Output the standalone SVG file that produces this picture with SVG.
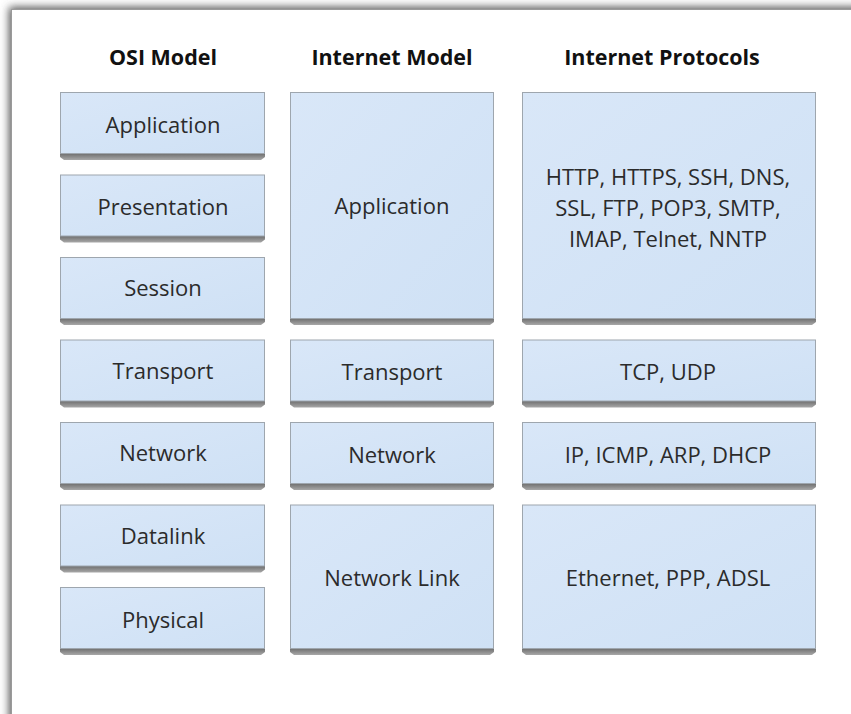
<svg xmlns="http://www.w3.org/2000/svg" width="851" height="714" viewBox="0 0 851 714">
  <defs>
    <linearGradient id="face" x1="0" y1="0" x2="1" y2="1">
      <stop offset="0" stop-color="#d9e7f8"/>
      <stop offset="1" stop-color="#cfe1f5"/>
    </linearGradient>
    <linearGradient id="bevel" x1="0" y1="0" x2="0" y2="1">
      <stop offset="0" stop-color="#6a6a6a"/>
      <stop offset="1" stop-color="#a8a8a8"/>
    </linearGradient>
    <filter id="soft" x="-5%" y="-50%" width="110%" height="200%">
      <feGaussianBlur stdDeviation="0.7"/>
    </filter>
    <filter id="pageShadow" x="-10%" y="-10%" width="120%" height="120%">
      <feGaussianBlur stdDeviation="4"/>
    </filter>
  </defs>
  <style>
    .face { fill: url(#face); stroke: #9ea6ae; stroke-width: 1; }
    .bevel { fill: url(#bevel); filter: url(#soft); }
    .hdr { font-family: "Open Sans", "Liberation Sans", sans-serif; font-weight: bold; font-size: 21.5px; fill: #111; text-anchor: middle; }
    .lbl { font-family: "Open Sans", "Liberation Sans", sans-serif; font-size: 22px; fill: #2b2b2b; text-anchor: middle; }
  </style>

  <!-- page with its drop shadow -->
  <rect x="0" y="0" width="851" height="714" fill="#ffffff"/>
  <rect x="9" y="7" width="900" height="800" fill="#555555" filter="url(#pageShadow)"/>
  <rect x="11.5" y="9.5" width="900" height="800" fill="#ffffff" stroke="#9a9a9a" stroke-width="1"/>

  <!-- column headers -->
  <g id="headers">
    <text class="hdr" x="163" y="64.5">OSI Model</text>
    <text class="hdr" x="392" y="64.5">Internet Model</text>
    <text class="hdr" x="662" y="64.5">Internet Protocols</text>
  </g>

  <!-- OSI model layers -->
  <g id="osi-application">
    <polygon class="bevel" points="60,153 265,153 265,157 261,160 64,160 60,157"/>
    <rect class="face" x="60.5" y="92.5" width="204" height="61"/>
    <text class="lbl" x="163" y="132.5">Application</text>
  </g>
  <g id="osi-presentation">
    <polygon class="bevel" points="60,235.5 265,235.5 265,239.5 261,242.5 64,242.5 60,239.5"/>
    <rect class="face" x="60.5" y="175" width="204" height="61"/>
    <text class="lbl" x="163" y="215">Presentation</text>
  </g>
  <g id="osi-session">
    <polygon class="bevel" points="60,318 265,318 265,322 261,325 64,325 60,322"/>
    <rect class="face" x="60.5" y="257.5" width="204" height="61"/>
    <text class="lbl" x="163" y="295.5">Session</text>
  </g>
  <g id="osi-transport">
    <polygon class="bevel" points="60,400.5 265,400.5 265,404.5 261,407.5 64,407.5 60,404.5"/>
    <rect class="face" x="60.5" y="340" width="204" height="61"/>
    <text class="lbl" x="163" y="378.5">Transport</text>
  </g>
  <g id="osi-network">
    <polygon class="bevel" points="60,483 265,483 265,487 261,490 64,490 60,487"/>
    <rect class="face" x="60.5" y="422.5" width="204" height="61"/>
    <text class="lbl" x="163" y="460.5">Network</text>
  </g>
  <g id="osi-datalink">
    <polygon class="bevel" points="60,565.5 265,565.5 265,569.5 261,572.5 64,572.5 60,569.5"/>
    <rect class="face" x="60.5" y="505" width="204" height="61"/>
    <text class="lbl" x="163" y="543.5">Datalink</text>
  </g>
  <g id="osi-physical">
    <polygon class="bevel" points="60,648 265,648 265,652 261,655 64,655 60,652"/>
    <rect class="face" x="60.5" y="587.5" width="204" height="61"/>
    <text class="lbl" x="163" y="627.5">Physical</text>
  </g>

  <!-- Internet model layers -->
  <g id="inet-application">
    <polygon class="bevel" points="290,318 494,318 494,322 490,325 294,325 290,322"/>
    <rect class="face" x="290.5" y="92.5" width="203" height="226"/>
    <text class="lbl" x="392" y="213.5">Application</text>
  </g>
  <g id="inet-transport">
    <polygon class="bevel" points="290,400.5 494,400.5 494,404.5 490,407.5 294,407.5 290,404.5"/>
    <rect class="face" x="290.5" y="340" width="203" height="61"/>
    <text class="lbl" x="392" y="379.5">Transport</text>
  </g>
  <g id="inet-network">
    <polygon class="bevel" points="290,483 494,483 494,487 490,490 294,490 290,487"/>
    <rect class="face" x="290.5" y="422.5" width="203" height="61"/>
    <text class="lbl" x="392" y="462.5">Network</text>
  </g>
  <g id="inet-link">
    <polygon class="bevel" points="290,648 494,648 494,652 490,655 294,655 290,652"/>
    <rect class="face" x="290.5" y="505" width="203" height="143.5"/>
    <text class="lbl" x="392" y="585.5">Network Link</text>
  </g>

  <!-- Protocols -->
  <g id="proto-application">
    <polygon class="bevel" points="522,318 816,318 816,322 812,325 526,325 522,322"/>
    <rect class="face" x="522.5" y="92.5" width="293" height="226"/>
    <text class="lbl" x="668" y="184.5">HTTP, HTTPS, SSH, DNS,</text>
    <text class="lbl" x="668" y="215.5">SSL, FTP, POP3, SMTP,</text>
    <text class="lbl" x="668" y="246.5">IMAP, Telnet, NNTP</text>
  </g>
  <g id="proto-transport">
    <polygon class="bevel" points="522,400.5 816,400.5 816,404.5 812,407.5 526,407.5 522,404.5"/>
    <rect class="face" x="522.5" y="340" width="293" height="61"/>
    <text class="lbl" x="668" y="379.5">TCP, UDP</text>
  </g>
  <g id="proto-network">
    <polygon class="bevel" points="522,483 816,483 816,487 812,490 526,490 522,487"/>
    <rect class="face" x="522.5" y="422.5" width="293" height="61"/>
    <text class="lbl" x="668" y="462.5">IP, ICMP, ARP, DHCP</text>
  </g>
  <g id="proto-link">
    <polygon class="bevel" points="522,648 816,648 816,652 812,655 526,655 522,652"/>
    <rect class="face" x="522.5" y="505" width="293" height="143.5"/>
    <text class="lbl" x="668" y="585.5">Ethernet, PPP, ADSL</text>
  </g>

  <!-- no connectors in this diagram -->
  <g id="connectors"/>
</svg>
